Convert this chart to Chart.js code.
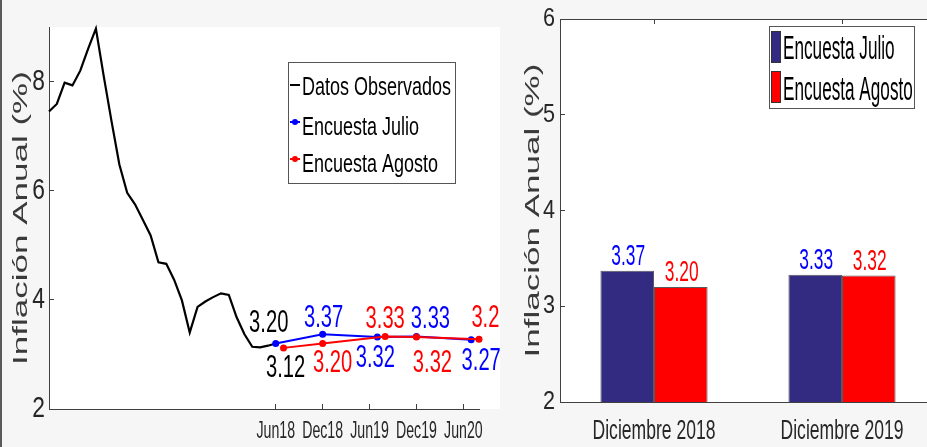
<!DOCTYPE html>
<html><head><meta charset="utf-8">
<script src="https://cdn.jsdelivr.net/npm/chart.js@4.4.1/dist/chart.umd.min.js"></script>
<style>
html,body{margin:0;padding:0;width:927px;height:447px;overflow:hidden;background:#f6f6f6;}
#c1{position:absolute;left:0;top:0;}
#c2{position:absolute;left:500px;top:0;}
#edge{position:absolute;left:0;top:0;width:2px;height:447px;background:#5a5a5a;}
</style></head><body>
<canvas id="c1" width="500" height="447" style="width:500px;height:447px"></canvas>
<canvas id="c2" width="436" height="447" style="width:436px;height:447px"></canvas>
<div id="edge"></div>
<script>
// ---------- DATA ----------
// observed monthly annual inflation, Jan 2016 (month 0) .. Jun 2018 (month 29)
const observedValues = [7.45, 7.59, 7.98, 7.93, 8.20, 8.60, 8.97, 8.10, 7.27, 6.48,
  5.96, 5.75, 5.47, 5.18, 4.69, 4.66, 4.37, 3.99, 3.40, 3.87,
  3.97, 4.05, 4.12, 4.09, 3.68, 3.37, 3.14, 3.13, 3.16, 3.20];
const julioMonths = [29, 35, 42, 47, 54];
const julioValues = [3.20, 3.37, 3.32, 3.33, 3.27];
const agostoMonths = [30, 35, 43, 47, 55];
const agostoValues = [3.12, 3.20, 3.33, 3.32, 3.28];
const lineTickMonths = [29, 35, 41, 47, 53];
const lineTickLabels = ['Jun18', 'Dec18', 'Jun19', 'Dec19', 'Jun20'];
const lineYTicks = [2, 4, 6, 8];
const barCategories = ['Diciembre 2018', 'Diciembre 2019'];
const barJulio = [3.37, 3.33];
const barAgosto = [3.20, 3.32];
const barYTicks = [2, 3, 4, 5, 6];
const yTitle = 'Inflación Anual (%)';
const seriesNames = ['Datos Observados', 'Encuesta Julio', 'Encuesta Agosto'];

// ---------- STYLE ----------
const FONT = "'Liberation Sans', Arial, sans-serif";
const BLUE = '#0000ff', RED = '#ff0000', BARBLUE = '#332a82';
const julioLabelOffsets = [[-7,-23],[1,-18],[-2,19],[14,-20],[10,19]];
const agostoLabelOffsets = [[2,18],[10,17],[0,-20],[16,24],[12,-23]];
const julioLabelColors = ['#000', BLUE, BLUE, BLUE, BLUE];
const agostoLabelColors = ['#000', RED, RED, RED, RED];
// horizontal condensation factor per font size (reference text is narrow)
const K_BY_SIZE = {35:0.56, 30:0.76, 26:0.83, 24:0.59, 27:0.65, 31:0.65, 29:0.6, 25:0.72, 34:0.505};

function condense(ctx){
  const kOf = (c) => { const m = /(\d+(?:\.\d+)?)px/.exec(c.font); return (m && K_BY_SIZE[+m[1]]) || 1; };
  ctx.fillText = function(text, x, y, maxWidth){
    const P = CanvasRenderingContext2D.prototype;
    const k = kOf(this);
    const m = this.getTransform();
    const sx = m.a*x + m.c*y + m.e;
    this.save();
    this.setTransform(k, 0, 0, 1, (1-k)*sx, 0);
    this.transform(m.a, m.b, m.c, m.d, m.e, m.f);
    if (maxWidth === undefined || maxWidth === null) P.fillText.call(this, text, x, y);
    else P.fillText.call(this, text, x, y, maxWidth);
    this.restore();
  };
  ctx.measureText = function(text){
    const P = CanvasRenderingContext2D.prototype;
    const r = P.measureText.call(this, text);
    const k = kOf(this);
    return {width: r.width*k,
      actualBoundingBoxAscent: r.actualBoundingBoxAscent, actualBoundingBoxDescent: r.actualBoundingBoxDescent,
      actualBoundingBoxLeft: r.actualBoundingBoxLeft*k, actualBoundingBoxRight: r.actualBoundingBoxRight*k,
      fontBoundingBoxAscent: r.fontBoundingBoxAscent, fontBoundingBoxDescent: r.fontBoundingBoxDescent};
  };
}
const noPad = s => { s.paddingTop = 0; s.paddingBottom = 0; s.paddingLeft = 0; s.paddingRight = 0; };

const bgPlugin = {
  id: 'bg',
  beforeDraw(chart){
    const {ctx, chartArea: a, width, height} = chart;
    ctx.save();
    ctx.fillStyle = '#f6f6f6';
    ctx.fillRect(0, 0, width, height);
    ctx.fillStyle = '#ffffff';
    ctx.fillRect(a.left, a.top, width - a.left, a.bottom - a.top);
    ctx.restore();
  }
};

function txt(ctx, s, x, cy, size, color, align){
  ctx.font = size + 'px ' + FONT;
  ctx.fillStyle = color;
  ctx.textAlign = align || 'center';
  ctx.textBaseline = 'alphabetic';
  ctx.fillText(s, x, cy + 0.358*size);
}

const lineLabelsPlugin = {
  id: 'lineLabels',
  afterDatasetsDraw(chart){
    const ctx = chart.ctx;
    ctx.save();
    const mj = chart.getDatasetMeta(1), ma = chart.getDatasetMeta(2);
    julioValues.forEach((v, i) => {
      const p = mj.data[i];
      txt(ctx, v.toFixed(2), p.x + julioLabelOffsets[i][0], p.y + julioLabelOffsets[i][1], 31, julioLabelColors[i]);
    });
    agostoValues.forEach((v, i) => {
      const p = ma.data[i];
      txt(ctx, v.toFixed(2), p.x + agostoLabelOffsets[i][0], p.y + agostoLabelOffsets[i][1], 31, agostoLabelColors[i]);
    });
    ctx.restore();
  }
};

const lineLegendPlugin = {
  id: 'lineLegend',
  afterDraw(chart){
    const ctx = chart.ctx;
    ctx.save();
    ctx.fillStyle = '#fff';
    ctx.fillRect(288.5, 62.5, 167, 121);
    ctx.strokeStyle = '#555';
    ctx.lineWidth = 1;
    ctx.strokeRect(288.5, 62.5, 167, 121);
    const cols = ['#000', BLUE, RED];
    const symY = [85, 122, 159];
    const txtY = [86, 126, 163];
    seriesNames.forEach((n, i) => {
      ctx.strokeStyle = cols[i];
      ctx.lineWidth = 2;
      ctx.beginPath(); ctx.moveTo(290, symY[i]); ctx.lineTo(300, symY[i]); ctx.stroke();
      if (i > 0) { ctx.fillStyle = cols[i]; ctx.beginPath(); ctx.arc(295, symY[i], 3, 0, Math.PI*2); ctx.fill(); }
      txt(ctx, n, 302, txtY[i], 25, '#000', 'left');
    });
    ctx.restore();
  }
};

const ctx1 = document.getElementById('c1').getContext('2d');
condense(ctx1);
new Chart(ctx1, {
  type: 'line',
  data: { datasets: [
    { label: seriesNames[0], data: observedValues.map((v, i) => ({x: i, y: v})),
      borderColor: '#000', backgroundColor: '#000', borderWidth: 2.2, pointRadius: 0, tension: 0, order: 2, clip: false },
    { label: seriesNames[1], data: julioMonths.map((m, i) => ({x: m, y: julioValues[i]})),
      borderColor: BLUE, backgroundColor: BLUE, pointBackgroundColor: BLUE, pointBorderWidth: 0,
      borderWidth: 2, pointRadius: 3.5, tension: 0, order: 1, clip: false },
    { label: seriesNames[2], data: agostoMonths.map((m, i) => ({x: m, y: agostoValues[i]})),
      borderColor: RED, backgroundColor: RED, pointBackgroundColor: RED, pointBorderWidth: 0,
      borderWidth: 2, pointRadius: 3.5, tension: 0, order: 0, clip: false }
  ]},
  options: {
    responsive: false, animation: false, events: [],
    layout: { padding: { left: 0, top: 27, right: 21, bottom: 0 } },
    plugins: { legend: { display: false }, tooltip: { enabled: false } },
    scales: {
      x: { type: 'linear', min: 0, max: 55,
        afterBuildTicks: s => { s.ticks = lineTickMonths.map(v => ({value: v})); },
        afterFit: s => { s.height = 38; noPad(s); },
        ticks: { callback: v => lineTickLabels[lineTickMonths.indexOf(v)], font: {family: FONT, size: 24},
          color: '#262626', padding: 13, maxRotation: 0, autoSkip: false },
        grid: { drawOnChartArea: false, drawTicks: true, tickLength: -5, color: '#404040', lineWidth: 1 },
        border: { display: true, color: '#404040', width: 1 } },
      y: { type: 'linear', min: 2, max: 9,
        afterBuildTicks: s => { s.ticks = lineYTicks.map(v => ({value: v})); },
        afterFit: s => { s.width = 49; noPad(s); },
        ticks: { font: {family: FONT, size: 30}, color: '#262626', padding: 9 },
        grid: { drawOnChartArea: false, drawTicks: true, tickLength: -5, color: '#404040', lineWidth: 1 },
        border: { display: true, color: '#404040', width: 1 },
        title: { display: true, text: yTitle, font: {family: FONT, size: 35}, color: '#3a3a3a', padding: {top: 1, bottom: 0} } }
    }
  },
  plugins: [bgPlugin, lineLabelsPlugin, lineLegendPlugin]
});

// ---------- BAR CHART ----------
const barLabelsPlugin = {
  id: 'barLabels',
  afterDatasetsDraw(chart){
    const ctx = chart.ctx;
    ctx.save();
    const cols = [BLUE, RED];
    [barJulio, barAgosto].forEach((arr, d) => {
      const meta = chart.getDatasetMeta(d);
      arr.forEach((v, i) => {
        const b = meta.data[i];
        txt(ctx, v.toFixed(2), b.x + 1, b.y - 16, 29, cols[d]);
      });
    });
    ctx.restore();
  }
};
const frameTopPlugin = {
  id: 'frameTop',
  afterDraw(chart){
    const {ctx, chartArea: a, scales: {x}} = chart;
    ctx.save();
    ctx.strokeStyle = '#404040';
    ctx.lineWidth = 1;
    ctx.beginPath();
    ctx.moveTo(a.left, a.top + 0.5); ctx.lineTo(a.right, a.top + 0.5);
    barCategories.forEach((c, i) => {
      const px = Math.round(x.getPixelForValue(i)) + 0.5;
      ctx.moveTo(px, a.top); ctx.lineTo(px, a.top + 5);
    });
    ctx.stroke();
    ctx.restore();
  }
};
const barLegendPlugin = {
  id: 'barLegend',
  afterDraw(chart){
    const ctx = chart.ctx;
    ctx.save();
    ctx.fillStyle = '#fff';
    ctx.fillRect(269.5, 26.5, 145, 82);
    ctx.strokeStyle = '#555';
    ctx.lineWidth = 1;
    ctx.strokeRect(269.5, 26.5, 145, 82);
    const cols = [BARBLUE, RED];
    const sy = [31, 71];
    const ty = [47, 88];
    [seriesNames[1], seriesNames[2]].forEach((n, i) => {
      ctx.fillStyle = cols[i];
      ctx.fillRect(271, sy[i], 10, 32);
      ctx.strokeStyle = '#333';
      ctx.strokeRect(271.5, sy[i] + 0.5, 9, 31);
      txt(ctx, n, 283, ty[i], 34, '#000', 'left');
    });
    ctx.restore();
  }
};

const ctx2 = document.getElementById('c2').getContext('2d');
condense(ctx2);
new Chart(ctx2, {
  type: 'bar',
  data: { labels: barCategories, datasets: [
    { label: seriesNames[1], data: barJulio, backgroundColor: BARBLUE, borderColor: '#5a5a5a', borderWidth: 1 },
    { label: seriesNames[2], data: barAgosto, backgroundColor: RED, borderColor: '#5a5a5a', borderWidth: 1 }
  ]},
  options: {
    responsive: false, animation: false, events: [],
    layout: { padding: { left: 0, top: 19, right: 0, bottom: 0 } },
    datasets: { bar: { barPercentage: 1, categoryPercentage: 0.57 } },
    plugins: { legend: { display: false }, tooltip: { enabled: false } },
    scales: {
      x: { afterFit: s => { s.height = 45; noPad(s); },
        ticks: { font: {family: FONT, size: 27}, color: '#262626', padding: 18, maxRotation: 0, autoSkip: false },
        grid: { offset: false, drawOnChartArea: false, drawTicks: true, tickLength: -5, color: '#404040' },
        border: { display: true, color: '#404040', width: 1 } },
      y: { type: 'linear', min: 2, max: 6,
        afterBuildTicks: s => { s.ticks = barYTicks.map(v => ({value: v})); },
        afterFit: s => { s.width = 60; noPad(s); },
        ticks: { font: {family: FONT, size: 26}, color: '#262626', padding: 10 },
        grid: { drawOnChartArea: false, drawTicks: true, tickLength: -5, color: '#404040' },
        border: { display: true, color: '#404040', width: 1 },
        title: { display: true, text: yTitle, font: {family: FONT, size: 35}, color: '#3a3a3a', padding: {top: 13, bottom: 0} } }
    }
  },
  plugins: [bgPlugin, barLabelsPlugin, frameTopPlugin, barLegendPlugin]
});
</script>
</body></html>
